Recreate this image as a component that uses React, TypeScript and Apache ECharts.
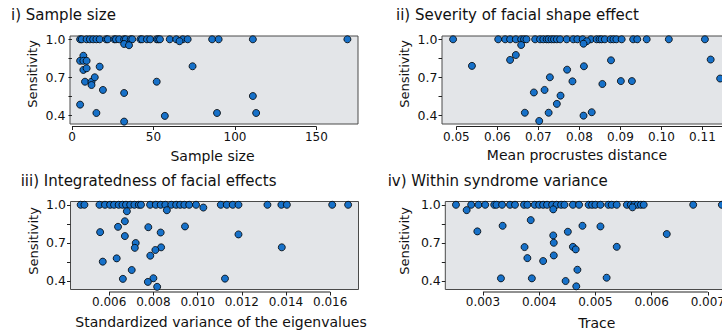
import React, { useEffect, useRef } from "react";
import * as echarts from "echarts";

const W = 722;
const H = 335;
const CANVAS_W = 820; // drawn wider than the page so the right panels run past the edge, as in the reference
const FONT = '"DejaVu Sans", "Liberation Sans", sans-serif';

// ---------- Data (sensitivity = 1.0 rows, then the remaining points) ----------
const sampleSizeTopRow = [5, 6, 9, 11, 13, 15, 17, 21, 22, 26, 27, 29, 32, 33, 36, 37, 42, 43, 46, 48, 52, 53, 54, 60, 64, 68, 71, 86, 90, 111, 169];
const sampleSizeOther: [number, number][] = [
  [66, 0.985], [32, 0.963], [35, 0.953], [5, 0.83], [7, 0.87], [7, 0.83], [9, 0.83], [7, 0.758], [9, 0.771],
  [17, 0.784], [8, 0.665], [12, 0.665], [12, 0.639], [14, 0.7], [19, 0.6], [32, 0.576], [5, 0.484], [15, 0.418],
  [32, 0.35], [74, 0.787], [52, 0.665], [111, 0.552], [57, 0.395], [89, 0.418], [113, 0.418],
];

const procrustesTopRow = [0.0492, 0.0602, 0.0619, 0.0631, 0.0645, 0.0658, 0.0665, 0.0671, 0.0692, 0.0704, 0.0712, 0.072, 0.0725, 0.0732, 0.0738, 0.0745, 0.0753, 0.0769, 0.0785, 0.0795, 0.0808, 0.0828, 0.0842, 0.0849, 0.0854, 0.0862, 0.0876, 0.0883, 0.089, 0.0903, 0.0931, 0.0941, 0.0964, 0.1018, 0.1106];
const procrustesOther: [number, number][] = [
  [0.0818, 0.985], [0.0658, 0.955], [0.081, 0.965], [0.0538, 0.79], [0.0631, 0.837], [0.0645, 0.876], [0.0728, 0.7],
  [0.0689, 0.58], [0.0715, 0.6], [0.0745, 0.49], [0.0754, 0.555], [0.0667, 0.42], [0.0725, 0.42], [0.0702, 0.355],
  [0.077, 0.76], [0.0783, 0.668], [0.0811, 0.787], [0.081, 0.397], [0.083, 0.424], [0.0856, 0.647], [0.0877, 0.834],
  [0.0901, 0.67], [0.0928, 0.67], [0.112, 0.84], [0.1143, 0.69],
];

const eigenVarTopRow = [0.00471, 0.00488, 0.00556, 0.00581, 0.00604, 0.00622, 0.00643, 0.0066, 0.00676, 0.00695, 0.00714, 0.00734, 0.00744, 0.00785, 0.00811, 0.00833, 0.00854, 0.00881, 0.00903, 0.00921, 0.0094, 0.00962, 0.00993, 0.01105, 0.01132, 0.01159, 0.01185, 0.01316, 0.01379, 0.01404, 0.01609, 0.01681];
const eigenVarOther: [number, number][] = [
  [0.01026, 0.978], [0.0068, 0.949], [0.00861, 0.957], [0.00671, 0.87], [0.0064, 0.826], [0.00777, 0.823], [0.00943, 0.829],
  [0.00559, 0.784], [0.00833, 0.781], [0.00671, 0.753], [0.0072, 0.698], [0.00716, 0.66], [0.00835, 0.664], [0.00809, 0.643],
  [0.00786, 0.598], [0.00634, 0.577], [0.00571, 0.551], [0.00702, 0.485], [0.00662, 0.415], [0.008, 0.42], [0.00775, 0.391],
  [0.00817, 0.352], [0.01185, 0.766], [0.01381, 0.664], [0.01124, 0.417],
];

const traceTopRow = [0.00252, 0.00279, 0.00292, 0.00304, 0.0032, 0.00324, 0.00334, 0.00348, 0.00357, 0.00373, 0.00379, 0.00392, 0.004, 0.00407, 0.00414, 0.00423, 0.00431, 0.00439, 0.00445, 0.0046, 0.00471, 0.00488, 0.00494, 0.005, 0.00509, 0.00523, 0.00529, 0.00538, 0.00556, 0.00563, 0.00569, 0.00575, 0.00581, 0.00586, 0.00674, 0.00725];
const traceOther: [number, number][] = [
  [0.00566, 0.98], [0.00271, 0.958], [0.00425, 0.964], [0.00385, 0.879], [0.00335, 0.834], [0.0029, 0.79], [0.00425, 0.758],
  [0.00451, 0.787], [0.00426, 0.7], [0.00374, 0.666], [0.00379, 0.579], [0.00426, 0.6], [0.00407, 0.556], [0.00332, 0.419],
  [0.00387, 0.419], [0.00447, 0.398], [0.00477, 0.834], [0.00509, 0.829], [0.00627, 0.769], [0.0046, 0.668], [0.00465, 0.648],
  [0.00538, 0.668], [0.00468, 0.487], [0.0052, 0.424], [0.00466, 0.356],
];

// ---------- Ticks and tick labels ----------
const sampleSizeTicks = [0, 50, 100, 150];
const sampleSizeLabels = [0, 50, 100, 150];
const procrustesTicks = [0.05, 0.06, 0.07, 0.08, 0.09, 0.1, 0.11, 0.12];
const procrustesLabels = [0.05, 0.06, 0.07, 0.08, 0.09, 0.1, 0.11];
const eigenVarTicks = [0.006, 0.008, 0.01, 0.012, 0.014, 0.016];
const eigenVarLabels = [0.006, 0.008, 0.01, 0.012, 0.014, 0.016];
const traceTicks = [0.003, 0.004, 0.005, 0.006, 0.007];
const traceLabels = [0.003, 0.004, 0.005, 0.006, 0.007];
const sensTicks = [0.4, 0.55, 0.7, 0.85, 1.0];
const sensLabels = [0.4, 0.7, 1.0];

const titles = [
  "i) Sample size",
  "ii) Severity of facial shape effect",
  "iii) Integratedness of facial effects",
  "iv) Within syndrome variance",
];
const xNames = ["Sample size", "Mean procrustes distance", "Standardized variance of the eigenvalues", "Trace"];
const yName = "Sensitivity";

export default function App() {
  const ref = useRef<HTMLDivElement>(null);

  useEffect(() => {
    if (!ref.current) return;
    const chart = echarts.init(ref.current, null, { renderer: "svg", width: CANVAS_W, height: H });

    const panels = [
      { top: sampleSizeTopRow, other: sampleSizeOther, ticks: sampleSizeTicks, labels: sampleSizeLabels, dec: 0, xmin: -1.2, xmax: 175.5,
        grid: { left: 70, top: 36, width: 288, height: 88 },
        title: { x: 11, y: 14.5 }, xName: { x: 212.5, y: 155.7 }, yName: { x: 32, y: 74 } },
      { top: procrustesTopRow, other: procrustesOther, ticks: procrustesTicks, labels: procrustesLabels, dec: 2, xmin: 0.0465, xmax: 0.1289,
        grid: { left: 442, top: 36, width: 338, height: 88 },
        title: { x: 396, y: 14.5 }, xName: { x: 577, y: 155 }, yName: { x: 404.5, y: 74 } },
      { top: eigenVarTopRow, other: eigenVarOther, ticks: eigenVarTicks, labels: eigenVarLabels, dec: 3, xmin: 0.00425, xmax: 0.01728,
        grid: { left: 70.5, top: 201.5, width: 288, height: 88 },
        title: { x: 20.7, y: 181 }, xName: { x: 221, y: 322.3 }, yName: { x: 33, y: 241 } },
      { top: traceTopRow, other: traceOther, ticks: traceTicks, labels: traceLabels, dec: 3, xmin: 0.00233, xmax: 0.0074,
        grid: { left: 445.3, top: 201.5, width: 285, height: 88 },
        title: { x: 387.7, y: 181 }, xName: { x: 596.8, y: 323 }, yName: { x: 404.5, y: 241 } },
    ];
    const YMIN = 0.331;
    const YMAX = 1.026;
    const textColor = "#111";
    const axisColor = "#222";

    const option: any = {
      animation: false,
      backgroundColor: "#ffffff",
      grid: panels.map((p) => ({
        ...p.grid,
        show: true,
        backgroundColor: "#e3e5e8",
        borderColor: "#4a4a4a",
        borderWidth: 1,
      })),
      xAxis: panels.map((p, i) => ({
        gridIndex: i,
        type: "value",
        min: p.xmin,
        max: p.xmax,
        offset: 2.5,
        axisLine: { show: false },
        axisTick: { show: true, length: 3.5, customValues: p.ticks, lineStyle: { color: axisColor, width: 1 } },
        axisLabel: {
          customValues: p.labels,
          formatter: (v: number) => v.toFixed(p.dec),
          margin: 4,
          fontSize: 12,
          fontFamily: FONT,
          color: textColor,
        },
        splitLine: { show: false },
      })),
      yAxis: panels.map((p, i) => ({
        gridIndex: i,
        type: "value",
        min: YMIN,
        max: YMAX,
        axisLine: { show: false },
        axisTick: { show: true, length: 3.5, customValues: sensTicks, lineStyle: { color: axisColor, width: 1 } },
        axisLabel: {
          customValues: sensLabels,
          formatter: (v: number) => v.toFixed(1),
          margin: 4.5,
          fontSize: 12.5,
          fontFamily: FONT,
          color: textColor,
        },
        splitLine: { show: false },
      })),
      series: panels.map((p, i) => ({
        type: "scatter",
        xAxisIndex: i,
        yAxisIndex: i,
        clip: false,
        symbol: "circle",
        symbolSize: 7,
        itemStyle: { color: "#1771c9", borderColor: "#000", borderWidth: 0.8, opacity: 1 },
        data: [...p.top.map((x) => [x, 1.0]), ...p.other],
      })),
    };
    chart.setOption(option);

    const graphics: any[] = [];
    panels.forEach((p, i) => {
      graphics.push({
        type: "text",
        x: p.title.x,
        y: p.title.y,
        style: { text: titles[i], fontSize: 15, fontFamily: FONT, fill: textColor, textAlign: "left", textVerticalAlign: "middle", align: "left", verticalAlign: "middle" },
      });
      graphics.push({
        type: "text",
        x: p.xName.x,
        y: p.xName.y,
        style: { text: xNames[i], fontSize: 14, fontFamily: FONT, fill: textColor, textAlign: "center", textVerticalAlign: "middle", align: "center", verticalAlign: "middle" },
      });
      graphics.push({
        type: "text",
        x: p.yName.x,
        y: p.yName.y,
        rotation: Math.PI / 2,
        style: { text: yName, fontSize: 13, fontFamily: FONT, fill: textColor, textAlign: "center", textVerticalAlign: "middle", align: "center", verticalAlign: "middle" },
      });
      const a = chart.convertToPixel({ gridIndex: i } as any, [p.ticks[0], YMIN]) as number[];
      const b = chart.convertToPixel({ gridIndex: i } as any, [p.ticks[p.ticks.length - 1], YMIN]) as number[];
      if (a && b) {
        graphics.push({
          type: "line",
          shape: { x1: a[0], y1: a[1] + 2.5, x2: b[0], y2: b[1] + 2.5 },
          style: { stroke: axisColor, lineWidth: 1 },
        });
      }
    });
    chart.setOption({ graphic: graphics });

    return () => chart.dispose();
  }, []);

  return (
    <div style={{ position: "fixed", left: 0, top: 0, width: W, height: H, overflow: "hidden", background: "#fff" }}>
      <div ref={ref} style={{ width: CANVAS_W, height: H }} />
    </div>
  );
}
